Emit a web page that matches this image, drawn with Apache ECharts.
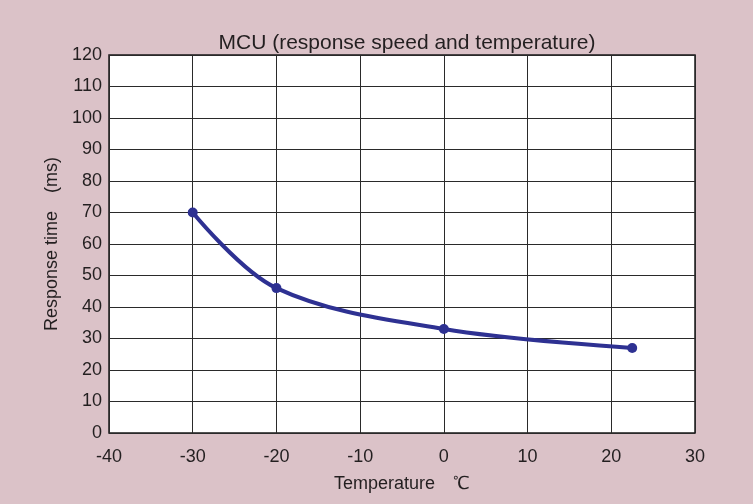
<!DOCTYPE html>
<html>
<head>
<meta charset="utf-8">
<script src="https://cdn.jsdelivr.net/npm/echarts@6/dist/echarts.min.js"></script>
<style>
  html, body { margin: 0; padding: 0; background: #dbc2c8; }
  #chart { width: 753px; height: 504px; }
</style>
</head>
<body>
<div id="chart"></div>
<script>
// Measured response time of the MCU at each temperature
const temperatures = [-30, -20, 0, 22.5];
const responseTimes = [70, 46, 33, 27];

const xTicks = { min: -40, max: 30, interval: 10 };
const yTicks = { min: 0, max: 120, interval: 10 };

const font = '"Liberation Sans", Arial, sans-serif';
const textColor = '#231f20';

const chart = echarts.init(document.getElementById('chart'));
chart.setOption({
  backgroundColor: '#dbc2c8',
  animation: false,
  title: {
    text: 'MCU (response speed and temperature)',
    left: 402, top: 28, textAlign: 'center',
    textStyle: { fontFamily: font, fontSize: 21, fontWeight: 'normal', color: textColor }
  },
  grid: {
    left: 109, right: 58, top: 55, bottom: 71,
    show: true, backgroundColor: '#ffffff', borderColor: '#1a1a1a', borderWidth: 1.5
  },
  xAxis: {
    type: 'value',
    min: xTicks.min, max: xTicks.max, interval: xTicks.interval,
    name: 'Temperature　℃',
    nameLocation: 'middle', nameGap: 42,
    nameTextStyle: { fontFamily: font, fontSize: 18, color: textColor },
    axisLine: { show: false },
    axisTick: { show: false },
    axisLabel: { margin: 15, fontFamily: font, fontSize: 18, color: textColor },
    splitLine: { lineStyle: { color: '#2a2a2a', width: 1 } }
  },
  yAxis: {
    type: 'value',
    min: yTicks.min, max: yTicks.max, interval: yTicks.interval,
    name: 'Response time　(ms)',
    nameLocation: 'middle', nameGap: 45, nameRotate: 90,
    nameTextStyle: { fontFamily: font, fontSize: 18, color: textColor },
    axisLine: { show: false },
    axisTick: { show: false },
    axisLabel: { margin: 7, fontFamily: font, fontSize: 18, color: textColor },
    splitLine: { lineStyle: { color: '#2a2a2a', width: 1 } }
  },
  series: [{
    type: 'line',
    data: temperatures.map((t, i) => [t, responseTimes[i]]),
    smooth: 0.35,
    symbol: 'circle',
    symbolSize: 10,
    lineStyle: { color: '#2e3192', width: 4 },
    itemStyle: { color: '#2e3192' }
  }]
});
</script>
</body>
</html>
